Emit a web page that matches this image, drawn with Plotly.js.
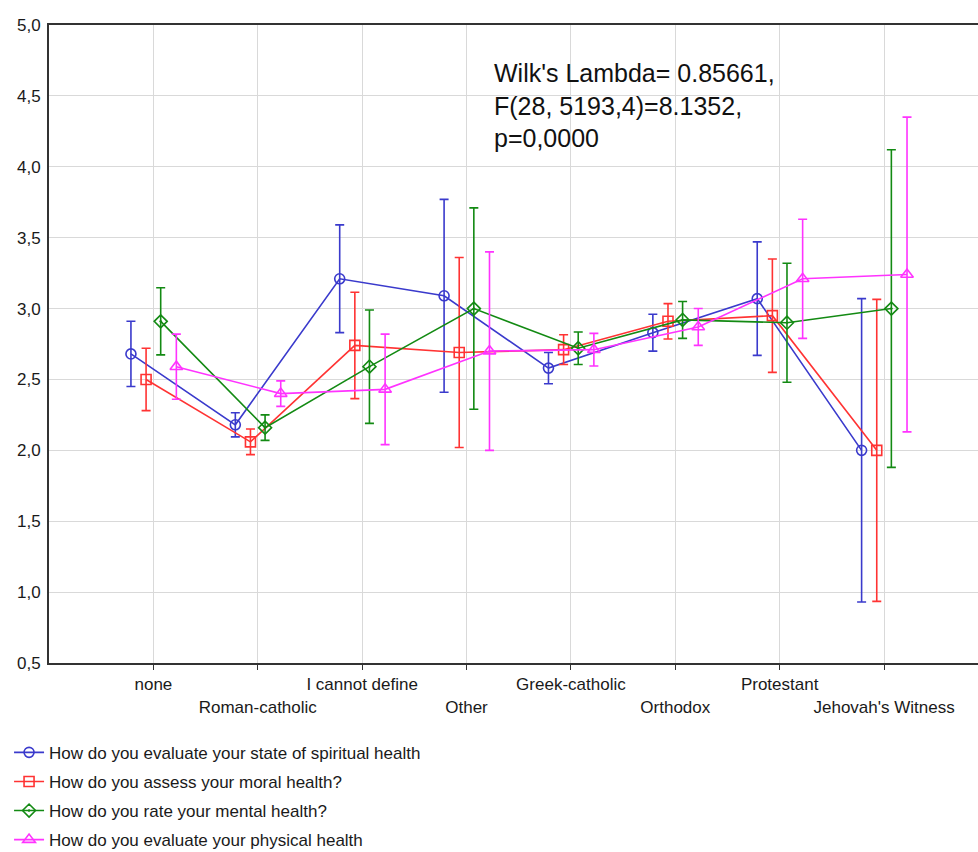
<!DOCTYPE html>
<html>
<head>
<meta charset="utf-8">
<script src="https://cdn.plot.ly/plotly-3.0.1.min.js"></script>
<style>
html, body { margin: 0; padding: 0; background: #fff; }
#chart { width: 978px; height: 852px; }
</style>
</head>
<body>
<div id="chart"></div>
<script>
const categories = ['none', 'Roman-catholic', 'I cannot define', 'Other', 'Greek-catholic', 'Orthodox', 'Protestant', "Jehovah's Witness"];

const seriesNames = [
  'How do you evaluate your state of spiritual health',
  'How do you assess your moral health?',
  'How do you rate your mental health?',
  'How do you evaluate your physical health'
];

const spiritual    = [2.68, 2.18, 3.21, 3.09, 2.58, 2.83, 3.07, 2.00];
const spiritualErr = [0.23, 0.085, 0.38, 0.68, 0.11, 0.13, 0.40, 1.07];
const moral        = [2.50, 2.06, 2.74, 2.69, 2.71, 2.91, 2.95, 2.00];
const moralErr     = [0.22, 0.09, 0.375, 0.67, 0.105, 0.125, 0.40, 1.065];
const mental       = [2.91, 2.16, 2.59, 3.00, 2.72, 2.92, 2.90, 3.00];
const mentalErr    = [0.237, 0.09, 0.40, 0.71, 0.115, 0.13, 0.42, 1.12];
const physical     = [2.59, 2.40, 2.43, 2.70, 2.71, 2.87, 3.21, 3.24];
const physicalErr  = [0.23, 0.09, 0.39, 0.70, 0.115, 0.13, 0.42, 1.11];

const yTicks = [0.5, 1.0, 1.5, 2.0, 2.5, 3.0, 3.5, 4.0, 4.5, 5.0];

// styling
const colors = ['#3a3acc', '#ff3333', '#138a13', '#ff33ff'];
const symbols = ['circle-open', 'square-open', 'diamond-open-dot', 'triangle-up-open'];
const dodge = [-0.215, -0.07, 0.07, 0.22];

const values = [spiritual, moral, mental, physical];
const errors = [spiritualErr, moralErr, mentalErr, physicalErr];

const font = 'Liberation Sans, Arial, sans-serif';

const traces = values.map((vals, k) => ({
  type: 'scatter',
  mode: 'lines+markers',
  name: seriesNames[k],
  legendgroup: 'g' + k,
  x: categories.map((c, i) => i + dodge[k]),
  y: vals,
  error_y: { type: 'data', array: errors[k], visible: true, color: colors[k], thickness: 1.6, width: 4.5 },
  line: { color: colors[k], width: 1.6 },
  marker: { symbol: symbols[k], size: k === 3 ? 11 : 10, color: colors[k], line: { color: colors[k], width: 1.6 } }
}));

const tickText = categories.map((c, i) => i % 2 === 0 ? c : '\u00a0<br>' + c);

const layout = {
  width: 978,
  height: 852,
  margin: { l: 49, r: 0, t: 25, b: 189, autoexpand: false },
  paper_bgcolor: '#ffffff',
  plot_bgcolor: '#ffffff',
  separators: ',.',
  font: { family: font, size: 17, color: '#1a1a1a' },
  showlegend: true,
  legend: {
    x: -0.043, xanchor: 'left',
    y: -0.1125, yanchor: 'top',
    font: { family: font, size: 17, color: '#1a1a1a' },
    tracegroupgap: 4,
    traceorder: 'grouped',
    bgcolor: 'rgba(0,0,0,0)'
  },
  xaxis: {
    range: [-1, 7.9],
    tickmode: 'array',
    tickvals: categories.map((c, i) => i),
    ticktext: tickText,
    tickangle: 0,
    automargin: false,
    showgrid: true,
    gridcolor: '#d9d9d9',
    gridwidth: 1,
    zeroline: false,
    showline: true,
    linecolor: '#333',
    linewidth: 2,
    mirror: true,
    ticks: 'outside',
    ticklen: 5,
    tickcolor: '#333',
    tickfont: { family: font, size: 17, color: '#1a1a1a' }
  },
  yaxis: {
    range: [0.5, 5.0],
    tickmode: 'array',
    tickvals: yTicks,
    tickformat: '.1f',
    automargin: false,
    showgrid: true,
    gridcolor: '#d9d9d9',
    gridwidth: 1,
    zeroline: false,
    showline: true,
    linecolor: '#333',
    linewidth: 2,
    mirror: true,
    ticks: 'outside',
    ticklen: 3,
    tickcolor: 'rgba(0,0,0,0)',
    tickfont: { family: font, size: 17, color: '#1a1a1a' }
  },
  annotations: [{
    xref: 'paper', yref: 'paper',
    x: 0.477, y: 0.95,
    xanchor: 'left', yanchor: 'top',
    align: 'left',
    showarrow: false,
    text: "Wilk's Lambda= 0.85661,<br>F(28, 5193,4)=8.1352,<br>p=0,0000",
    font: { family: font, size: 25, color: '#111' }
  }]
};

Plotly.newPlot('chart', traces, layout, { displayModeBar: false, staticPlot: true });
</script>
</body>
</html>
